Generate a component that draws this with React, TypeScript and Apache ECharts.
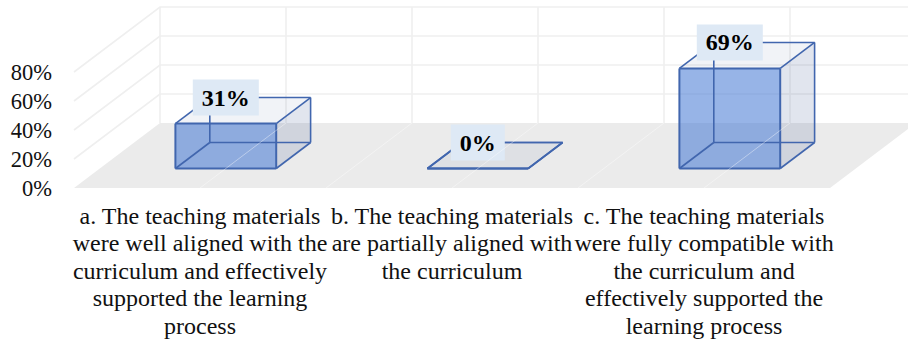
import React, { useEffect, useRef } from "react";
import * as echarts from "echarts";

const categories = [
  "a. The teaching materials\nwere well aligned with the\ncurriculum and effectively\nsupported the learning\nprocess",
  "b. The teaching materials\nare partially aligned with\nthe curriculum",
  "c. The teaching materials\nwere fully compatible with\nthe curriculum and\neffectively supported the\nlearning process",
];
const barValues = [31, 0, 69];
const valueLabels = ["31%", "0%", "69%"];
const yTicks = [0, 20, 40, 60, 80];
const floorDivisions = [0, 1, 2, 3, 4, 5, 6];

const SERIF = '"Liberation Serif", "Times New Roman", serif';
const DEPTH_X = 86;
const DEPTH_Y = -65;
const WALL = "#EFEFEF";
const EDGE = "#4166AE";

export default function App() {
  const ref = useRef<HTMLDivElement>(null);
  useEffect(() => {
    const chart = echarts.init(ref.current!, undefined, { renderer: "svg" });

    const renderWalls = (_p: any, api: any) => {
      const band = api.size([1, 0])[0];
      const x0 = api.coord([0, 0])[0] - band / 2;
      const y0 = api.coord([0, 0])[1];
      const yTop = api.coord([0, 80])[1];
      const n = floorDivisions.length - 1;
      const xEnd = x0 + (n * band) / 2;
      const children: any[] = [];
      children.push({
        type: "polygon",
        shape: {
          points: [
            [x0, y0],
            [x0 + DEPTH_X, y0 + DEPTH_Y],
            [xEnd + DEPTH_X, y0 + DEPTH_Y],
            [xEnd, y0],
          ],
        },
        style: { fill: "#EBEBEB" },
      });
      yTicks.forEach((t) => {
        const y = api.coord([0, t])[1];
        if (t > 0) {
          children.push({
            type: "polyline",
            shape: {
              points: [
                [x0, y],
                [x0 + DEPTH_X, y + DEPTH_Y],
                [xEnd + DEPTH_X, y + DEPTH_Y],
              ],
            },
            style: { fill: "none", stroke: WALL, lineWidth: 1.6 },
          });
        }
      });
      floorDivisions.forEach((k) => {
        const x = x0 + (k * band) / 2;
        children.push({
          type: "line",
          shape: { x1: x + DEPTH_X, y1: y0 + DEPTH_Y, x2: x + DEPTH_X, y2: yTop + DEPTH_Y },
          style: { stroke: WALL, lineWidth: 1.6 },
        });
      });
      return { type: "group", children };
    };

    const renderBar = (_p: any, api: any) => {
      const i = api.value(0);
      const base = api.coord([i, 0]);
      const top = api.coord([i, api.value(1)]);
      const band = api.size([1, 0])[0];
      const w = band * 0.4;
      const ox = DEPTH_X * 0.3;
      const oy = DEPTH_Y * 0.3;
      const dx = DEPTH_X * 0.4;
      const dy = DEPTH_Y * 0.4;
      const l = base[0] + ox - w / 2;
      const r = l + w;
      const yb = base[1] + oy;
      const yt = top[1] + oy;
      const line = (x1: number, y1: number, x2: number, y2: number, lw = 1.6) => ({
        type: "line",
        shape: { x1, y1, x2, y2 },
        style: { stroke: EDGE, lineWidth: lw },
      });
      const poly = (points: number[][], fill: string) => ({
        type: "polygon",
        shape: { points },
        style: { fill },
      });
      return {
        type: "group",
        children: [
          poly([[r, yb], [r + dx, yb + dy], [r + dx, yt + dy], [r, yt]], "rgba(55,82,142,0.15)"),
          poly([[l, yt], [r, yt], [r + dx, yt + dy], [l + dx, yt + dy]], "rgba(55,82,142,0.07)"),
          poly([[l, yb], [r, yb], [r, yt], [l, yt]], "rgba(66,118,212,0.55)"),
          line(l + dx, yb + dy, r + dx, yb + dy),
          line(l, yb, l + dx, yb + dy),
          line(l + dx, yb + dy, l + dx, yt + dy),
          line(r + dx, yb + dy, r + dx, yt + dy),
          line(l + dx, yt + dy, r + dx, yt + dy),
          line(l, yt, l + dx, yt + dy),
          line(r, yt, r + dx, yt + dy),
          line(r, yb, r + dx, yb + dy),
          line(l, yb, l, yt, 2),
          line(r, yb, r, yt, 2),
          line(l, yb, r, yb, 2),
          line(l, yt, r, yt, 2),
          {
            type: "text",
            z2: 10,
            style: {
              text: valueLabels[i],
              x: (l + r) / 2,
              y: yt + dy,
              align: "center",
              verticalAlign: "middle",
              fill: "#000",
              font: `bold 24px ${SERIF}`,
              backgroundColor: "#DEE9F5",
              padding: [6, 9],
            },
          },
        ],
      };
    };

    const renderFloorLines = (_p: any, api: any) => {
      const band = api.size([1, 0])[0];
      const x0 = api.coord([0, 0])[0] - band / 2;
      const y0 = api.coord([0, 0])[1];
      return {
        type: "group",
        children: floorDivisions.slice(1, -1).map((k) => ({
          type: "line",
          shape: {
            x1: x0 + (k * band) / 2,
            y1: y0,
            x2: x0 + (k * band) / 2 + DEPTH_X,
            y2: y0 + DEPTH_Y,
          },
          style: { stroke: "rgba(255,255,255,0.4)", lineWidth: 1 },
        })),
      };
    };

    chart.setOption({
      animation: false,
      grid: { left: 74, right: 78, top: 72, bottom: 155, containLabel: false },
      xAxis: {
        type: "category",
        data: categories,
        axisLine: { show: false },
        axisTick: { show: false },
        axisLabel: {
          interval: 0,
          margin: 14,
          color: "#111",
          fontFamily: SERIF,
          fontSize: 24,
          lineHeight: 27.5,
          align: "center",
        },
      },
      yAxis: {
        type: "value",
        min: 0,
        max: 80,
        interval: 20,
        axisLine: { show: false },
        axisTick: { show: false },
        splitLine: { show: false },
        axisLabel: {
          margin: 22,
          color: "#111",
          fontFamily: SERIF,
          fontSize: 22.5,
          padding: [2, 0, 0, 0],
          formatter: (v: number) => `${v}%`,
        },
      },
      series: [
        {
          type: "custom",
          name: "walls",
          silent: true,
          clip: false,
          data: [[0, 0]],
          encode: { x: 0, y: 1 },
          z: 1,
          renderItem: renderWalls,
        },
        {
          type: "custom",
          name: "bars",
          clip: false,
          data: barValues.map((v, i) => [i, v]),
          encode: { x: 0, y: 1 },
          z: 2,
          renderItem: renderBar,
        },
        {
          type: "custom",
          name: "floor",
          silent: true,
          clip: false,
          data: [[0, 0]],
          encode: { x: 0, y: 1 },
          z: 3,
          renderItem: renderFloorLines,
        },
      ],
    });
    return () => chart.dispose();
  }, []);
  return <div ref={ref} style={{ position: "absolute", left: 0, top: 0, width: 908, height: 343 }} />;
}
